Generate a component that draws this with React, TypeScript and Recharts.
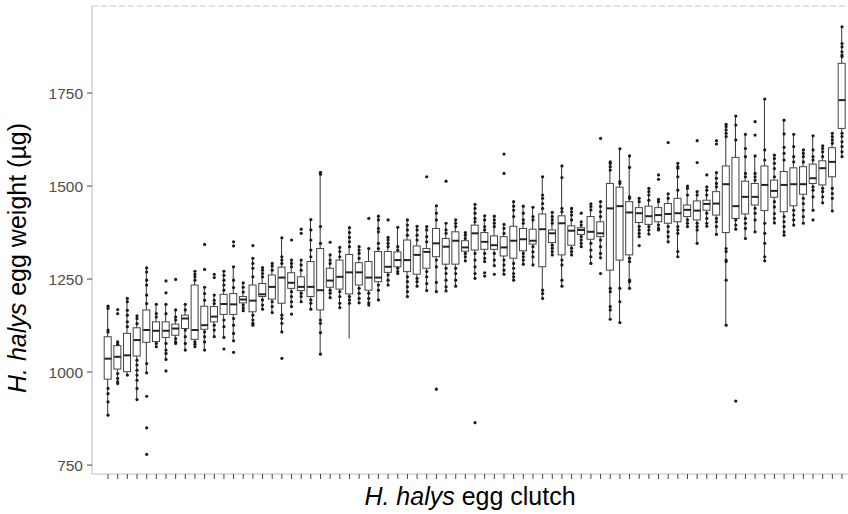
import React from 'react';
import { ComposedChart, Bar, Scatter, XAxis, YAxis, ReferenceLine, Label } from 'recharts';

// box stats per clutch (µg)
const lo = [884, 969, 992, 926, 998, 1068, 1034, 1077, 1059, 1068, 1059, 1095, 1093, 1084, 1165, 1126, 1169, 1160, 1108, 1176, 1189, 1169, 1048, 1200, 1173, 1090, 1186, 1180, 1194, 1234, 1265, 1203, 1231, 1219, 1216, 1218, 1231, 1299, 1252, 1297, 1286, 1263, 1247, 1290, 1288, 1198, 1315, 1231, 1315, 1337, 1292, 1307, 1142, 1133, 1225, 1364, 1371, 1382, 1350, 1310, 1391, 1346, 1392, 1370, 1126, 1384, 1359, 1377, 1299, 1401, 1368, 1395, 1400, 1435, 1455, 1433, 1579];
const q1 = [981, 1008, 1001, 1043, 1080, 1082, 1093, 1099, 1117, 1088, 1115, 1135, 1155, 1155, 1186, 1162, 1203, 1196, 1185, 1225, 1219, 1203, 1167, 1228, 1223, 1210, 1234, 1220, 1243, 1268, 1283, 1270, 1263, 1279, 1310, 1290, 1290, 1325, 1328, 1330, 1330, 1312, 1306, 1326, 1344, 1283, 1348, 1315, 1341, 1370, 1357, 1364, 1274, 1301, 1315, 1402, 1397, 1404, 1400, 1404, 1418, 1409, 1435, 1422, 1375, 1413, 1425, 1449, 1434, 1470, 1431, 1447, 1478, 1507, 1503, 1525, 1655];
const med = [1036, 1041, 1045, 1086, 1113, 1111, 1111, 1117, 1144, 1113, 1126, 1149, 1183, 1182, 1195, 1192, 1209, 1229, 1254, 1240, 1229, 1229, 1220, 1246, 1256, 1268, 1268, 1254, 1254, 1283, 1301, 1301, 1315, 1323, 1346, 1337, 1353, 1335, 1373, 1350, 1341, 1335, 1353, 1357, 1353, 1384, 1373, 1400, 1380, 1382, 1377, 1373, 1440, 1446, 1429, 1427, 1419, 1422, 1425, 1427, 1436, 1434, 1452, 1453, 1505, 1446, 1471, 1471, 1503, 1487, 1503, 1505, 1505, 1521, 1548, 1565, 1731];
const q3 = [1095, 1071, 1104, 1119, 1167, 1135, 1135, 1129, 1153, 1234, 1177, 1176, 1209, 1211, 1203, 1234, 1238, 1261, 1282, 1267, 1256, 1297, 1332, 1279, 1301, 1316, 1294, 1297, 1324, 1324, 1323, 1355, 1339, 1332, 1386, 1359, 1377, 1353, 1395, 1375, 1366, 1364, 1392, 1386, 1384, 1425, 1382, 1420, 1393, 1388, 1418, 1404, 1507, 1497, 1458, 1442, 1446, 1442, 1453, 1467, 1449, 1460, 1462, 1485, 1554, 1577, 1513, 1507, 1554, 1516, 1539, 1549, 1552, 1559, 1568, 1603, 1830];
const hi = [1177, 1081, 1198, 1151, 1280, 1182, 1182, 1167, 1182, 1271, 1228, 1207, 1271, 1283, 1240, 1306, 1281, 1292, 1361, 1301, 1301, 1410, 1537, 1315, 1335, 1388, 1337, 1332, 1419, 1362, 1389, 1409, 1392, 1391, 1447, 1400, 1409, 1375, 1451, 1420, 1419, 1397, 1458, 1446, 1443, 1525, 1429, 1554, 1440, 1404, 1452, 1458, 1565, 1600, 1581, 1467, 1494, 1464, 1479, 1561, 1500, 1485, 1498, 1536, 1666, 1688, 1639, 1581, 1734, 1583, 1677, 1639, 1597, 1635, 1608, 1642, 1928];

// individual eggs visible outside the boxes
const pts = [
  [1177, 1171, 1113, 1108, 956, 942, 920, 884],
  [1168, 1157, 1081, 1075, 996, 983, 974, 969],
  [1198, 1189, 1166, 1153, 1135, 1122, 992],
  [1151, 1144, 1130, 1032, 1019, 1005, 992, 978, 956, 926],
  [1280, 1269, 1247, 1234, 1207, 1184, 1023, 998, 935, 850, 779],
  [1182, 1157, 1148, 1077, 1068],
  [1245, 1213, 1182, 1157, 1077, 1059, 1050, 1034, 1003],
  [1249, 1167, 1148, 1140, 1090, 1081, 1077],
  [1182, 1167, 1113, 1095, 1077, 1059],
  [1271, 1263, 1256, 1247, 1081, 1075, 1068],
  [1343, 1276, 1228, 1211, 1193, 1108, 1095, 1081, 1059],
  [1263, 1254, 1207, 1193, 1184, 1126, 1113, 1095],
  [1271, 1260, 1247, 1234, 1220, 1140, 1122, 1093, 1062],
  [1350, 1339, 1283, 1247, 1227, 1144, 1126, 1104, 1084, 1053],
  [1240, 1228, 1215, 1180, 1172, 1165],
  [1340, 1306, 1292, 1279, 1256, 1153, 1140, 1131, 1126],
  [1281, 1274, 1265, 1256, 1194, 1180, 1169],
  [1292, 1285, 1274, 1189, 1176, 1160],
  [1361, 1310, 1301, 1292, 1153, 1144, 1131, 1108, 1037],
  [1355, 1301, 1292, 1283, 1216, 1203, 1189, 1176, 1156],
  [1384, 1373, 1301, 1288, 1274, 1212, 1203, 1189],
  [1410, 1382, 1355, 1328, 1310, 1194, 1185, 1169],
  [1537, 1532, 1391, 1346, 1140, 1131, 1106, 1048],
  [1349, 1315, 1301, 1292, 1220, 1212, 1200],
  [1335, 1324, 1310, 1216, 1203, 1185, 1173],
  [1388, 1375, 1362, 1350, 1337, 1203, 1194, 1185],
  [1337, 1328, 1319, 1306, 1225, 1212, 1198, 1186],
  [1413, 1332, 1212, 1198, 1186, 1180],
  [1419, 1409, 1386, 1377, 1346, 1332, 1234, 1220, 1194],
  [1409, 1362, 1355, 1346, 1337, 1261, 1247, 1234],
  [1389, 1337, 1328, 1279, 1270, 1265],
  [1409, 1395, 1382, 1368, 1256, 1243, 1229, 1216, 1203],
  [1392, 1382, 1368, 1355, 1252, 1243, 1231],
  [1525, 1391, 1382, 1364, 1350, 1270, 1256, 1238, 1219],
  [1447, 1427, 1409, 1301, 1283, 1241, 1216, 954],
  [1513, 1400, 1382, 1373, 1279, 1265, 1247, 1229, 1218],
  [1409, 1400, 1391, 1279, 1265, 1247, 1231],
  [1375, 1368, 1359, 1319, 1310, 1299],
  [1451, 1440, 1427, 1413, 1404, 1319, 1301, 1283, 1265, 1252, 864],
  [1420, 1409, 1391, 1382, 1319, 1306, 1297, 1267, 1258],
  [1419, 1409, 1400, 1391, 1319, 1301, 1286, 1263],
  [1586, 1534, 1397, 1386, 1373, 1301, 1288, 1274, 1263],
  [1458, 1446, 1435, 1418, 1292, 1279, 1265, 1256, 1247],
  [1446, 1427, 1409, 1400, 1319, 1310, 1301, 1290],
  [1443, 1418, 1409, 1337, 1323, 1310, 1288],
  [1525, 1476, 1467, 1453, 1440, 1220, 1211, 1198],
  [1429, 1418, 1409, 1400, 1341, 1333, 1324, 1315],
  [1554, 1523, 1440, 1431, 1301, 1288, 1247, 1231],
  [1440, 1431, 1422, 1409, 1333, 1324, 1315],
  [1427, 1404, 1395, 1364, 1355, 1346, 1337],
  [1452, 1445, 1436, 1346, 1328, 1310, 1292],
  [1628, 1458, 1445, 1431, 1418, 1355, 1337, 1319, 1307, 1265],
  [1565, 1561, 1552, 1543, 1225, 1216, 1176, 1167, 1142],
  [1600, 1512, 1507, 1225, 1189, 1133],
  [1581, 1550, 1471, 1467, 1306, 1297, 1247, 1243, 1225],
  [1467, 1458, 1391, 1382, 1373, 1364, 1340],
  [1494, 1485, 1476, 1462, 1391, 1382, 1371],
  [1530, 1518, 1464, 1458, 1395, 1386, 1382],
  [1617, 1479, 1467, 1391, 1377, 1364, 1350],
  [1561, 1552, 1548, 1525, 1489, 1391, 1382, 1373, 1324, 1310],
  [1500, 1494, 1476, 1409, 1400, 1391],
  [1622, 1563, 1485, 1476, 1400, 1391, 1382, 1346],
  [1530, 1498, 1489, 1476, 1427, 1413, 1400, 1392],
  [1622, 1613, 1536, 1521, 1507, 1498, 1413, 1404, 1391, 1370],
  [1666, 1660, 1651, 1642, 1633, 1332, 1324, 1301, 1297, 1247, 1126],
  [1688, 1664, 1624, 1409, 1395, 1384, 922],
  [1639, 1601, 1579, 1534, 1525, 1413, 1400, 1386, 1359],
  [1673, 1637, 1581, 1534, 1525, 1516, 1440, 1427, 1409, 1377],
  [1734, 1597, 1570, 1400, 1373, 1346, 1310, 1299],
  [1583, 1574, 1561, 1547, 1525, 1458, 1444, 1426, 1413, 1401],
  [1677, 1640, 1604, 1588, 1570, 1418, 1404, 1391, 1377, 1368],
  [1639, 1606, 1579, 1565, 1435, 1422, 1409, 1395],
  [1597, 1588, 1579, 1565, 1467, 1453, 1435, 1418, 1400],
  [1635, 1597, 1579, 1570, 1498, 1489, 1471, 1435, 1409],
  [1608, 1601, 1592, 1579, 1494, 1485, 1471, 1455],
  [1642, 1633, 1624, 1615, 1494, 1480, 1467, 1433],
  [1928, 1883, 1874, 1861, 1852, 1848, 1642, 1633, 1619, 1606, 1592, 1579],
];

const clutches = lo.map((_, i) => i);
const yTicks = [750, 1000, 1250, 1500, 1750];
const X_DOMAIN = [-1.66, 76.62];
const Y_DOMAIN = [726, 1984];

const rows = clutches.map((i) => ({ x: i, lo: lo[i], q1: q1[i], med: med[i], q3: q3[i], hi: hi[i] }));
const eggs = pts.flatMap((vals, i) => vals.map((y) => ({ x: i, y })));

const FONT = '"Liberation Sans", Arial, sans-serif';

const Whisker = (p: any) => {
  const cx = p.x + p.width / 2;
  return <line x1={cx} x2={cx} y1={p.y} y2={p.y + p.height} stroke="#333" strokeWidth={1} />;
};

const Box = (p: any) => {
  const top = Math.min(p.y, p.y + p.height);
  return (
    <rect x={p.x} y={top} width={p.width} height={Math.abs(p.height)} fill="#fff" stroke="#444" strokeWidth={1} />
  );
};

const Median = (p: any) => (
  <line x1={p.cx - 3.5} x2={p.cx + 3.5} y1={p.cy} y2={p.cy} stroke="#222" strokeWidth={2} />
);

const Egg = (p: any) => <circle cx={p.cx} cy={p.cy} r={1.6} fill="#1a1a1a" />;

const YTitle = () => (
  <text x={26} y={258} transform="rotate(-90 26 258)" textAnchor="middle" fontFamily={FONT} fontSize={25} fill="#000">
    <tspan fontStyle="italic">H. halys</tspan>
    <tspan> egg weight (µg)</tspan>
  </text>
);

const XTitle = () => (
  <text x={470} y={505} textAnchor="middle" fontFamily={FONT} fontSize={25} fill="#000">
    <tspan fontStyle="italic">H. halys</tspan>
    <tspan> egg clutch</tspan>
  </text>
);

export default function App() {
  const hiddenAxis = (id: string) => (
    <XAxis
      xAxisId={id}
      dataKey="x"
      type="number"
      domain={X_DOMAIN}
      ticks={clutches}
      allowDataOverflow
      hide
    />
  );

  return (
    <div style={{ width: 848, height: 514 }}>
      <style>{'body{margin:0}'}</style>
      <ComposedChart
        width={848}
        height={514}
        data={rows}
        margin={{ top: 6, right: 0, left: 0, bottom: 0 }}
        style={{ fontFamily: FONT }}
      >
        <XAxis
          dataKey="x"
          type="number"
          domain={X_DOMAIN}
          ticks={clutches}
          interval={0}
          allowDataOverflow
          tickFormatter={() => ''}
          tickSize={5}
          axisLine={{ stroke: '#bdbdbd' }}
          tickLine={{ stroke: '#444' }}
          height={40}
        >
          <Label content={<XTitle />} />
        </XAxis>
        {hiddenAxis('upper')}
        {hiddenAxis('box')}
        <YAxis
          type="number"
          domain={Y_DOMAIN}
          ticks={yTicks}
          allowDataOverflow
          width={92}
          tickSize={5}
          tickMargin={4}
          axisLine={{ stroke: '#bdbdbd' }}
          tickLine={{ stroke: '#444' }}
          tick={{ fill: '#4d4d4d', fontSize: 15.5, fontFamily: FONT }}
        >
          <Label content={<YTitle />} />
        </YAxis>
        <ReferenceLine y={Y_DOMAIN[1]} stroke="#c8c8c8" strokeDasharray="6 3" />
        <Scatter data={eggs} dataKey="y" shape={<Egg />} isAnimationActive={false} />
        <Bar dataKey={(d: any) => [d.lo, d.q1]} barSize={1} shape={<Whisker />} isAnimationActive={false} />
        <Bar xAxisId="upper" dataKey={(d: any) => [d.q3, d.hi]} barSize={1} shape={<Whisker />} isAnimationActive={false} />
        <Bar xAxisId="box" dataKey={(d: any) => [d.q1, d.q3]} barSize={7} shape={<Box />} isAnimationActive={false} />
        <Scatter data={rows} dataKey="med" shape={<Median />} isAnimationActive={false} />
      </ComposedChart>
    </div>
  );
}
